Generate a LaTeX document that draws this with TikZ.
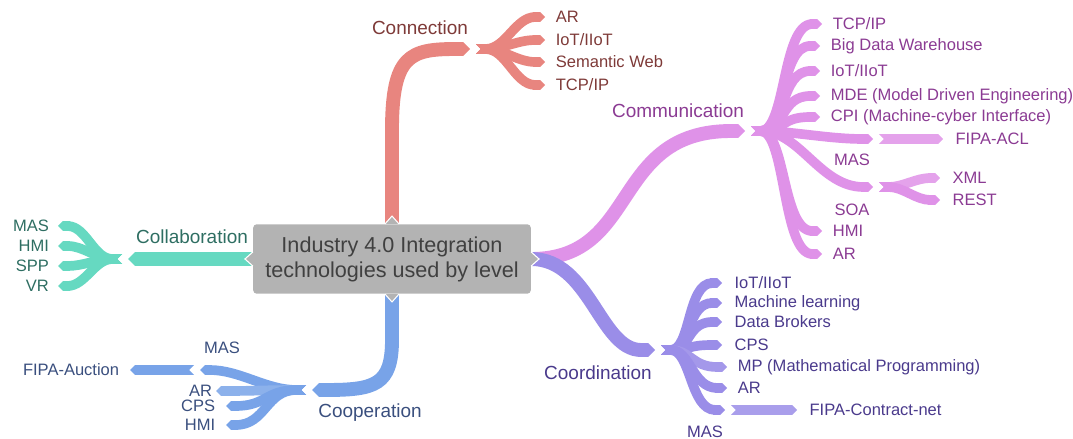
\documentclass[tikz,border=0pt]{standalone}
\usepackage{fontspec}
\setmainfont{Liberation Sans}
\usetikzlibrary{arrows.meta,positioning}
\definecolor{hubgray}{HTML}{B3B3B3}
\definecolor{hubtext}{HTML}{404040}
\definecolor{cnline}{HTML}{E8857F}
\definecolor{cntext}{HTML}{7E3A38}
\definecolor{cmline}{HTML}{DF92E8}
\definecolor{cmtext}{HTML}{8B3B93}
\definecolor{clline}{HTML}{66D9C1}
\definecolor{cltext}{HTML}{2E6E62}
\definecolor{coline}{HTML}{78A3E8}
\definecolor{cotext}{HTML}{3A4F7E}
\definecolor{cdline}{HTML}{9A8DE8}
\definecolor{cdtext}{HTML}{4A3A8C}
\tikzset{
	hub/.style={fill=hubgray, rounded corners=2pt, align=center, text=hubtext,
			minimum width=158pt, minimum height=39.5pt,
			font=\fontsize{12.3}{14.2}\selectfont},
	notch/.style={fill=hubgray, draw=white, line width=.6pt},
	trunk/.style={line width=7.9pt, -{Triangle Cap}},
	twig/.style={line width=5.5pt, {Triangle Cap[reversed]}-{Triangle Cap}},
	level/.style={inner sep=1pt, font=\fontsize{10.8}{13}\selectfont},
	leaf/.style={inner sep=1pt, font=\fontsize{9.4}{11}\selectfont}
}

\begin{document}
\begin{tikzpicture}[x=0.02cm, y=-0.02cm]
        \useasboundingbox (0,0) rectangle (1073,439);

        % Centre topic
        \node[hub] (hub) at (392,259) {Industry 4.0 Integration\\technologies used by level};

        % Connection
        \coordinate (cn-root) at (470,49);
        \coordinate (cn-fork) at (476,49);
        \draw[trunk, cnline] (hub.north) -- (392,130) .. controls (392,55) and (410,49) .. (cn-root);
        \node[level, text=cntext] (cn) at (420,28) {Connection};
        \coordinate (cn-e1) at (545,17);
        \coordinate (cn-e2) at (545,40);
        \coordinate (cn-e3) at (545,62);
        \coordinate (cn-e4) at (545,85);
        \draw[twig, cnline] (cn-fork) to[out=0, in=180] (cn-e1);
        \draw[twig, cnline] (cn-fork) to[out=0, in=180] (cn-e2);
        \draw[twig, cnline] (cn-fork) to[out=0, in=180] (cn-e3);
        \draw[twig, cnline] (cn-fork) to[out=0, in=180] (cn-e4);
        \node[leaf, text=cntext, right=5pt of cn-e1] (cn-ar) {AR};
        \node[leaf, text=cntext, right=5pt of cn-e2] (cn-iot) {IoT/IIoT};
        \node[leaf, text=cntext, right=5pt of cn-e3] (cn-sw) {Semantic Web};
        \node[leaf, text=cntext, right=5pt of cn-e4] (cn-tcp) {TCP/IP};

        % Communication
        \coordinate (cm-root) at (745,131);
        \coordinate (cm-fork) at (751,131);
        \draw[trunk, cmline] (hub.east) .. controls (640,259) and (610,131) .. (cm-root);
        \node[level, text=cmtext] (cm) at (678,111) {Communication};
        \coordinate (cm-e1) at (822,24);
        \coordinate (cm-e2) at (820,46);
        \coordinate (cm-e3) at (820,71);
        \coordinate (cm-e4) at (820,96);
        \coordinate (cm-e5) at (820,117);
        \coordinate (cm-e6) at (873,139);
        \coordinate (cm-e7) at (873,187);
        \coordinate (cm-e8) at (822,231);
        \coordinate (cm-e9) at (822,254);
        \draw[twig, cmline] (cm-fork) .. controls +(35,0) and +(-40,0) .. (cm-e1);
        \draw[twig, cmline] (cm-fork) .. controls +(35,0) and +(-40,0) .. (cm-e2);
        \draw[twig, cmline] (cm-fork) .. controls +(35,0) and +(-40,0) .. (cm-e3);
        \draw[twig, cmline] (cm-fork) .. controls +(35,0) and +(-40,0) .. (cm-e4);
        \draw[twig, cmline] (cm-fork) .. controls +(35,0) and +(-40,0) .. (cm-e5);
        \draw[twig, cmline] (cm-fork) .. controls +(40,0) and +(-45,0) .. (cm-e6);
        \draw[twig, cmline] (cm-fork) .. controls (800,131) and (820,187) .. (cm-e7);
        \draw[twig, cmline] (cm-fork) .. controls +(35,0) and +(-40,0) .. (cm-e8);
        \draw[twig, cmline] (cm-fork) .. controls +(35,0) and +(-40,0) .. (cm-e9);
        \node[leaf, text=cmtext, right=5pt of cm-e1] (cm-tcp) {TCP/IP};
        \node[leaf, text=cmtext, right=5pt of cm-e2] (cm-bdw) {Big Data Warehouse};
        \node[leaf, text=cmtext, right=5pt of cm-e3] (cm-iot) {IoT/IIoT};
        \node[leaf, text=cmtext, right=5pt of cm-e4] (cm-mde) {MDE (Model Driven Engineering)};
        \node[leaf, text=cmtext, right=5pt of cm-e5] (cm-cpi) {CPI (Machine-cyber Interface)};
        \node[leaf, text=cmtext] (cm-mas) at (852,160) {MAS};
        \node[leaf, text=cmtext] (cm-soa) at (852,210) {SOA};
        \node[leaf, text=cmtext, right=5pt of cm-e8] (cm-hmi) {HMI};
        \node[leaf, text=cmtext, right=5pt of cm-e9] (cm-ar) {AR};
        % MAS -> FIPA-ACL
        \coordinate (cm-f1) at (879,139);
        \coordinate (cm-f2) at (943,139);
        \draw[twig, cmline!85] (cm-f1) -- (cm-f2);
        \node[leaf, text=cmtext, right=6pt of cm-f2] (cm-fipa) {FIPA-ACL};
        % SOA -> XML, REST
        \coordinate (cm-g) at (879,187);
        \coordinate (cm-x) at (940,178);
        \coordinate (cm-r) at (940,200);
        \draw[twig, cmline!85] (cm-g) to[out=0, in=180] (cm-x);
        \draw[twig, cmline] (cm-g) to[out=0, in=180] (cm-r);
        \node[leaf, text=cmtext, right=6pt of cm-x] (cm-xml) {XML};
        \node[leaf, text=cmtext, right=6pt of cm-r] (cm-rest) {REST};

        % Collaboration
        \coordinate (cl-root) at (128,259);
        \coordinate (cl-fork) at (122,259);
        \draw[trunk, clline] (hub.west) -- (cl-root);
        \node[level, text=cltext] (cl) at (192,237) {Collaboration};
        \coordinate (cl-e1) at (58,226);
        \coordinate (cl-e2) at (58,246);
        \coordinate (cl-e3) at (58,266);
        \coordinate (cl-e4) at (58,286);
        \draw[twig, clline] (cl-fork) to[out=180, in=0] (cl-e1);
        \draw[twig, clline] (cl-fork) to[out=180, in=0] (cl-e2);
        \draw[twig, clline] (cl-fork) to[out=180, in=0] (cl-e3);
        \draw[twig, clline] (cl-fork) to[out=180, in=0] (cl-e4);
        \node[leaf, text=cltext, left=4pt of cl-e1] (cl-mas) {MAS};
        \node[leaf, text=cltext, left=4pt of cl-e2] (cl-hmi) {HMI};
        \node[leaf, text=cltext, left=4pt of cl-e3] (cl-spp) {SPP};
        \node[leaf, text=cltext, left=4pt of cl-e4] (cl-vr) {VR};

        % Cooperation
        \coordinate (co-root) at (312,390);
        \coordinate (co-fork) at (306,390);
        \draw[trunk, coline] (hub.south) -- (392,340) .. controls (392,385) and (375,390) .. (co-root);
        \node[level, text=cotext] (co) at (370,413) {Cooperation};
        \coordinate (co-e1) at (200,370);
        \coordinate (co-e2) at (216,391);
        \coordinate (co-e3) at (226,406);
        \coordinate (co-e4) at (226,425);
        \draw[twig, coline] (co-fork) .. controls +(-40,0) and +(40,0) .. (co-e1);
        \draw[twig, coline!85] (co-fork) .. controls +(-40,0) and +(40,0) .. (co-e2);
        \draw[twig, coline] (co-fork) .. controls +(-40,0) and +(40,0) .. (co-e3);
        \draw[twig, coline] (co-fork) .. controls +(-40,0) and +(40,0) .. (co-e4);
        \node[leaf, text=cotext] (co-mas) at (222,348) {MAS};
        \node[leaf, text=cotext, left=1pt of co-e2] (co-ar) {AR};
        \node[leaf, text=cotext, left=5pt of co-e3] (co-cps) {CPS};
        \node[leaf, text=cotext, left=5pt of co-e4] (co-hmi) {HMI};
        % MAS -> FIPA-Auction
        \coordinate (co-f1) at (194,370);
        \coordinate (co-f2) at (130,370);
        \draw[twig, coline] (co-f1) -- (co-f2);
        \node[leaf, text=cotext, left=5pt of co-f2] (co-fipa) {FIPA-Auction};

        % Coordination
        \coordinate (cd-root) at (655,350);
        \coordinate (cd-fork) at (661,350);
        \draw[trunk, cdline] (hub.east) .. controls (590,259) and (600,350) .. (cd-root);
        \node[level, text=cdtext] (cd) at (598,373) {Coordination};
        \coordinate (cd-e1) at (722,283);
        \coordinate (cd-e2) at (722,303);
        \coordinate (cd-e3) at (722,322);
        \coordinate (cd-e4) at (722,345);
        \coordinate (cd-e5) at (727,367);
        \coordinate (cd-e6) at (727,388);
        \coordinate (cd-e7) at (725,410);
        \draw[twig, cdline] (cd-fork) .. controls +(30,0) and +(-35,0) .. (cd-e1);
        \draw[twig, cdline] (cd-fork) .. controls +(30,0) and +(-35,0) .. (cd-e2);
        \draw[twig, cdline] (cd-fork) .. controls +(30,0) and +(-35,0) .. (cd-e3);
        \draw[twig, cdline] (cd-fork) .. controls +(30,0) and +(-35,0) .. (cd-e4);
        \draw[twig, cdline!90] (cd-fork) .. controls +(30,0) and +(-35,0) .. (cd-e5);
        \draw[twig, cdline] (cd-fork) .. controls +(30,0) and +(-35,0) .. (cd-e6);
        \draw[twig, cdline] (cd-fork) .. controls +(30,0) and +(-35,0) .. (cd-e7);
        \node[leaf, text=cdtext, right=6pt of cd-e1] (cd-iot) {IoT/IIoT};
        \node[leaf, text=cdtext, right=6pt of cd-e2] (cd-ml) {Machine learning};
        \node[leaf, text=cdtext, right=6pt of cd-e3] (cd-db) {Data Brokers};
        \node[leaf, text=cdtext, right=6pt of cd-e4] (cd-cps) {CPS};
        \node[leaf, text=cdtext, right=5pt of cd-e5] (cd-mp) {MP (Mathematical Programming)};
        \node[leaf, text=cdtext, right=5pt of cd-e6] (cd-ar) {AR};
        \node[leaf, text=cdtext] (cd-mas) at (705,432) {MAS};
        % MAS -> FIPA-Contract-net
        \coordinate (cd-f1) at (731,410);
        \coordinate (cd-f2) at (797,410);
        \draw[twig, cdline!85] (cd-f1) -- (cd-f2);
        \node[leaf, text=cdtext, right=6pt of cd-f2] (cd-fipa) {FIPA-Contract-net};

        % Notches on the centre topic
        \filldraw[notch] ([xshift=-4pt]hub.north) -- ([yshift=4.5pt]hub.north) -- ([xshift=4pt]hub.north);
        \filldraw[notch] ([xshift=-4pt]hub.south) -- ([yshift=-4.5pt]hub.south) -- ([xshift=4pt]hub.south);
        \filldraw[notch] ([yshift=4pt]hub.west) -- ([xshift=-4.5pt]hub.west) -- ([yshift=-4pt]hub.west);
        \filldraw[notch] ([yshift=4pt]hub.east) -- ([xshift=4.5pt]hub.east) -- ([yshift=-4pt]hub.east);
\end{tikzpicture}
\end{document}
